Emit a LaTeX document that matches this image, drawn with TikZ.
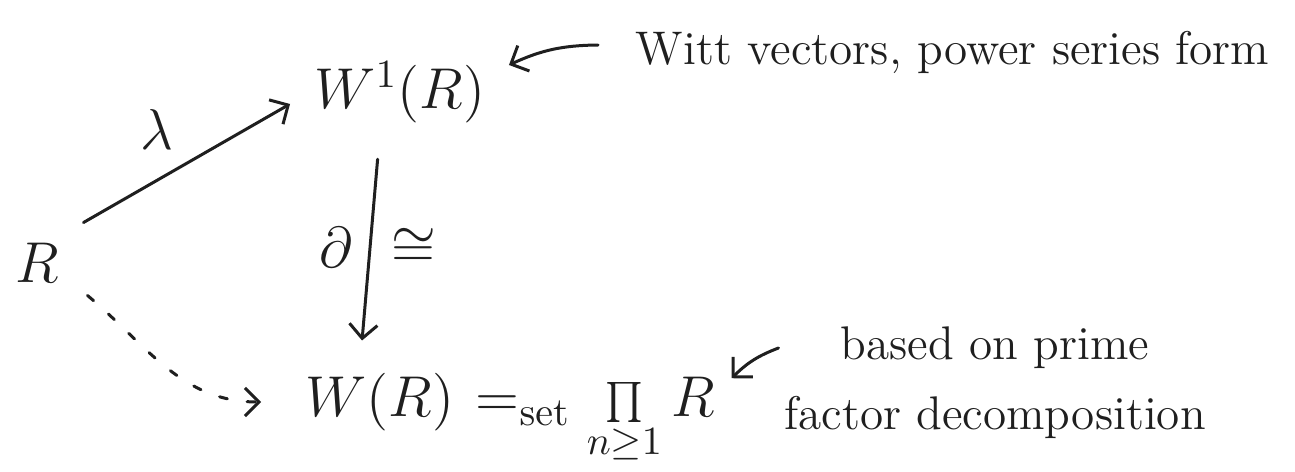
\documentclass[tikz,border=0pt]{standalone}
\usetikzlibrary{arrows.meta}
\begin{document}
\begin{tikzpicture}[x=0.25pt,y=-0.25pt,
  ink/.style={line width=0.75pt, draw=black!88, line cap=round},
  arr/.style={ink, -{Straight Barb[length=3.5pt,width=7pt]}},
  mathnode/.style={font=\Large, text=black!88, inner sep=2pt},
  note/.style={font=\fontsize{11.8}{17.5}\selectfont, text=black!88, inner sep=2pt},
  lbl/.style={font=\Large, text=black!88, inner sep=2pt}]
\useasboundingbox (0,0) rectangle (1295,471);
% objects
\node[mathnode] (R) at (37,263) {$R$};
\node[mathnode] (W1) at (400,92) {$W^1(R)$};
\node[mathnode] (WR) at (380,402) {$W(R)$};
\node[mathnode, anchor=base west] (P) at ([xshift=1pt]WR.base east) {$=_{\mathrm{set}}\prod\limits_{n\geq 1} R$};
% notes
\node[note, anchor=west] (T1) at (627,52) {Witt vectors, power series form};
\node[note, align=center] (T2) at (995,383) {based on prime\\factor decomposition};
% maps
\draw[arr] ([xshift=4pt,yshift=3pt]R.north east) -- ([xshift=-4pt,yshift=-3pt]W1.west)
  node[lbl, midway, above left=1pt] {$\lambda$};
\draw[arr, shorten <=7pt, shorten >=6pt] ([xshift=-5pt]W1.south) -- ([xshift=-5pt]WR.north)
  node[lbl, midway, left=2pt] {$\partial$}
  node[lbl, midway, right=3pt] {$\cong$};
\draw[arr, dash pattern=on 2pt off 5pt] ([xshift=5pt,yshift=-1pt]R.south east) to[out=-40,in=180] ([xshift=-9pt]WR.west)
  node[lbl, pos=0.55, below left=6pt] {$\delta$};
% annotation arrows
\draw[arr] ([xshift=-7.25pt,yshift=1.75pt]T1.west) to[bend right=12] ([xshift=3.75pt,yshift=6.75pt]W1.east);
\draw[arr] ([xshift=0.75pt,yshift=8.75pt]T2.west) to[bend right=12] ([xshift=2pt,yshift=-2.5pt]P.north east);
\end{tikzpicture}
\end{document}
